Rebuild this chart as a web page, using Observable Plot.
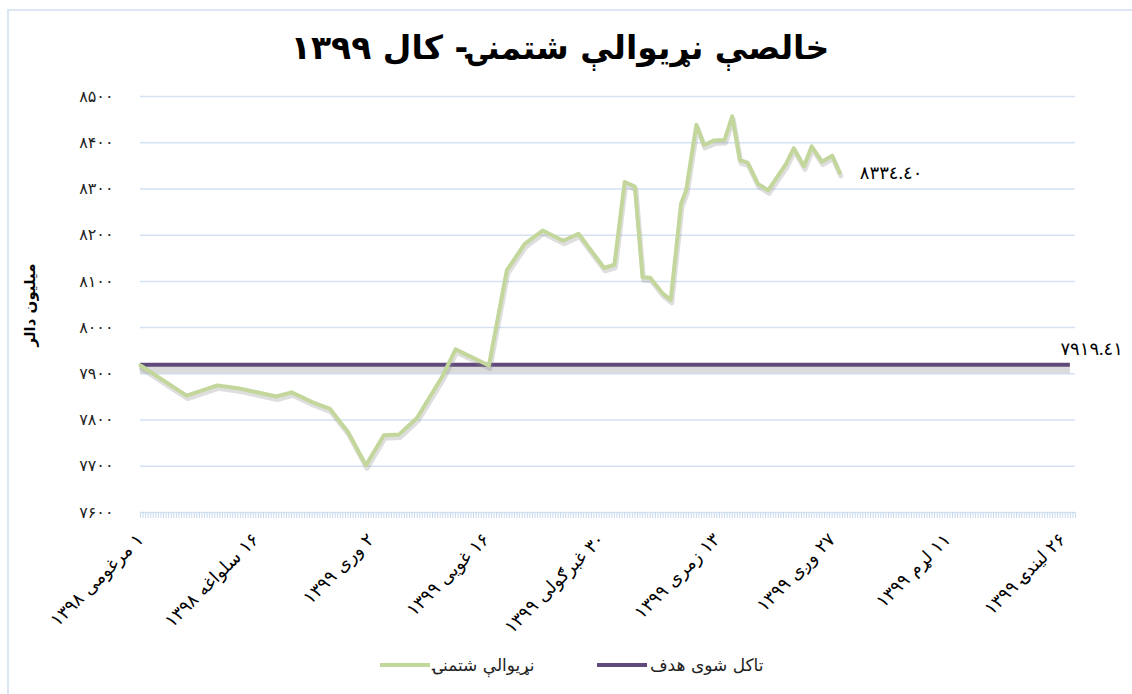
<!DOCTYPE html>
<html>
<head>
<meta charset="utf-8">
<script src="https://cdn.jsdelivr.net/npm/d3@7"></script>
<script src="https://cdn.jsdelivr.net/npm/@observablehq/plot@0.6"></script>
<style>
  body { margin: 0; background: #fff; }
  #wrap { position: relative; width: 1132px; height: 694px; overflow: hidden; background: #fff; font-family: "DejaVu Sans", sans-serif; }
  #frame { position: absolute; left: 7px; top: 9px; width: 1300px; height: 900px; border-top: 2px solid #dde7f4; border-left: 2px solid #dde7f4; }
  #title { position: absolute; top: 28px; left: 0; width: 1120px; text-align: center; direction: rtl; font-weight: bold; font-size: 33px; color: #000; }
  #chart { position: absolute; left: 0; top: 80px; }
  #ylabel { position: absolute; left: 30px; top: 305px; transform: translate(-50%, -50%) rotate(-90deg); font-weight: bold; font-size: 15px; white-space: nowrap; }
  .leg { position: absolute; top: 652px; height: 26px; display: flex; align-items: center; font-size: 17px; color: #222; }
  .sw { width: 50px; height: 4px; margin-right: 3px; }
</style>
</head>
<body>
<div id="wrap">
  <div id="frame"></div>
  <div id="title"></div>
  <div id="ylabel"></div>
  <div id="chart"></div>
  <div class="leg" style="left:380px"><div class="sw" style="background:#c3d69b"></div><span id="leg1" dir="rtl"></span></div>
  <div class="leg" style="left:597px"><div class="sw" style="background:#604a7b"></div><span id="leg2" dir="rtl"></span></div>
</div>
<script>
const titleText = "خالصې نړیوالې شتمنۍ- کال ۱۳۹۹";
const yAxisTitle = "میلیون دالر";
const seriesName = "نړیوالې شتمنۍ";
const targetName = "تاکل شوی هدف";

// day index from 1 مرغومی 1398
const days = [0,18,30,38,53,59,67,74,81,88,95,101,108,118,123,136,143,150,157,165,171,181,185,189,193,196,199,204,207,211,213,217,220,224,228,231,234,237,241,245,252,255,259,262,266,270,273];
const values = [7918,7853,7875,7869,7851,7860,7839,7824,7774,7702,7767,7769,7805,7896,7953,7918,8124,8181,8210,8188,8203,8129,8136,8315,8305,8109,8108,8073,8060,8268,8297,8439,8395,8405,8406,8457,8362,8357,8311,8297,8354,8388,8349,8392,8359,8372,8334.4];

const targetValue = 7919.41;
const targetStart = 0;
const targetEnd = 363;
const lastLabel = "٨٣٣٤.٤٠";
const targetLabel = "٧٩١٩.٤١";

const xTicks = [0,45,90,135,180,225,270,315,360];
const xTickLabels = ["۱ مرغومی ۱۳۹۸","۱۶ سلواغه ۱۳۹۸","۲ وری ۱۳۹۹","۱۶ غویی ۱۳۹۹","۳۰ غبرګولی ۱۳۹۹","۱۳ زمری ۱۳۹۹","۲۷ وږی ۱۳۹۹","۱۱ لړم ۱۳۹۹","۲۶ لیندۍ ۱۳۹۹"];
const yTicks = [7600,7700,7800,7900,8000,8100,8200,8300,8400,8500];
const yTickLabels = ["۷۶۰۰","۷۷۰۰","۷۸۰۰","۷۹۰۰","۸۰۰۰","۸۱۰۰","۸۲۰۰","۸۳۰۰","۸۴۰۰","۸۵۰۰"];
const xDomain = [0,365];

document.getElementById("title").textContent = titleText;
document.getElementById("ylabel").textContent = yAxisTitle;
document.getElementById("leg1").textContent = seriesName;
document.getElementById("leg2").textContent = targetName;

const series = days.map((d,i) => ({day: d, value: values[i]}));
const xLab = new Map(xTicks.map((t,i) => [t, "\u202B" + xTickLabels[i] + "\u202C"]));
const yLab = new Map(yTicks.map((t,i) => [t, yTickLabels[i]]));
const allDays = d3.range(xDomain[0], xDomain[1] + 1);
const last = series[series.length - 1];

const chart = Plot.plot({
  width: 1132,
  height: 560,
  marginLeft: 140,
  marginRight: 57,
  marginTop: 16,
  marginBottom: 128,
  style: {fontFamily: "DejaVu Sans", background: "transparent", color: "#000"},
  x: {domain: xDomain, axis: null, label: null},
  y: {domain: [7600, 8500], axis: null, label: null},
  marks: [
    Plot.gridY(yTicks, {stroke: "#d5e2f2", strokeOpacity: 1, strokeWidth: 1.5}),
    Plot.axisX(allDays, {tickSize: 6, text: null, label: null, stroke: "#c7d9ef", strokeOpacity: 1}),
    Plot.axisX(xTicks, {tickSize: 0, tickPadding: 24, tickRotate: -45, label: null, tickFormat: d => xLab.get(d), fontSize: 18, fill: "#000"}),
    Plot.axisY(yTicks, {tickSize: 0, tickPadding: 27, label: null, tickFormat: d => yLab.get(d), fontSize: 16, fill: "#222"}),
    Plot.ruleY([targetValue], {x1: targetStart, x2: targetEnd, stroke: "#999", strokeOpacity: 0.35, strokeWidth: 7, dy: 5}),
    Plot.ruleY([targetValue], {x1: targetStart, x2: targetEnd, stroke: "#604a7b", strokeWidth: 4}),
    Plot.line(series, {x: "day", y: "value", stroke: "#888", strokeOpacity: 0.28, strokeWidth: 5, dx: 1, dy: 3}),
    Plot.line(series, {x: "day", y: "value", stroke: "#c3d69b", strokeWidth: 4}),
    Plot.text([last], {x: "day", y: "value", text: () => lastLabel, dx: 20, textAnchor: "start", fontSize: 18, fontFamily: "Liberation Serif, DejaVu Sans", fill: "#000"}),
    Plot.text([targetValue], {x: () => targetEnd, y: d => d, text: () => targetLabel, dx: -10, dy: -16, textAnchor: "start", fontSize: 18, fontFamily: "Liberation Serif, DejaVu Sans", fill: "#000"})
  ]
});
document.getElementById("chart").appendChild(chart);
</script>
</body>
</html>
